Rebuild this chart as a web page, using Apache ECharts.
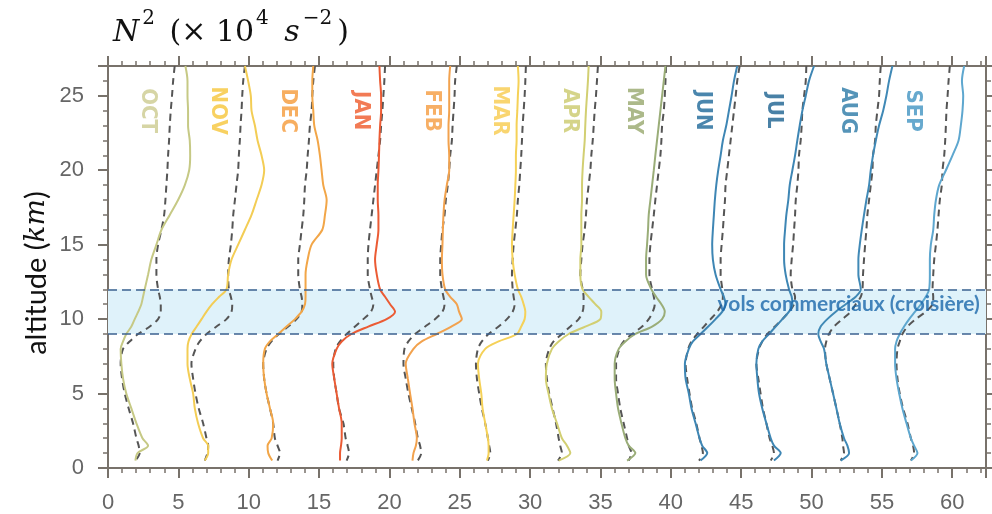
<!DOCTYPE html>
<html><head><meta charset="utf-8">
<script src="https://cdn.jsdelivr.net/npm/echarts@6/dist/echarts.min.js"></script>
<style>html,body{margin:0;padding:0;background:#fff}#c{width:992px;height:514px}</style>
</head><body><div id="c"></div>
<script>
// altitude levels (km), top to bottom
const ALT = [27,26,25,24,23,22,21,20,19,18,17,16,15,14,13,12,11.5,11,10.5,10,9.5,9,8.5,8,7,6,5,4,3,2,1.5,1,0.5];

const MONTHS = ['OCT','NOV','DEC','JAN','FEB','MAR','APR','MAY','JUN','JUL','AUG','SEP'];
const LINE_COLORS = ['#c6c985','#f3cd55','#f2a648','#eb5b34','#f2a24e','#f5d158','#d2cf72','#9aad78','#3e86b4','#3e86b4','#4089b6','#5ea7cf'];
const LABEL_COLORS = ['#cccb8e','#f6c53a','#f59a38','#ef5a2a','#f59b3e','#f7ca4c','#cbc96c','#97a76d','#1d6898','#1b6290','#2a79a6','#4194c2'];
const LABEL_X = [2.8,7.8,12.76,17.96,23.0,27.82,32.8,37.38,42.28,47.33,52.55,57.2];
const LABEL_ALT = 24;

// solid profiles (x position on the shifted N² axis)
const octSolid = [5.50,5.65,5.65,5.69,5.69,5.81,5.84,5.77,5.46,4.98,4.39,3.80,3.44,3.08,2.85,2.61,2.49,2.37,2.15,1.90,1.66,1.30,1.07,0.90,0.95,1.07,1.30,1.66,2.02,2.45,2.85,2.10,1.95];
const novSolid = [9.73,9.96,10.15,10.20,10.44,10.63,10.91,11.10,10.91,10.56,10.20,9.73,9.25,8.78,8.54,8.42,7.90,7.40,7.00,6.65,6.30,5.95,5.72,5.65,5.65,5.81,6.05,6.17,6.40,6.76,7.12,7.12,6.88];
const decSolid = [14.59,14.52,14.52,14.59,14.66,14.90,15.06,15.18,15.30,15.54,15.42,15.23,14.47,14.19,14.04,14.04,14.04,14.00,13.76,13.29,12.69,12.10,11.51,11.15,11.03,11.10,11.27,11.51,11.74,11.63,11.34,11.39,11.67];
const janSolid = [19.29,19.34,19.41,19.41,19.34,19.29,19.26,19.22,19.17,19.17,19.22,19.22,19.10,18.98,19.10,19.34,19.69,20.05,20.40,19.80,18.50,17.30,16.61,16.25,15.94,16.08,16.25,16.42,16.61,16.61,16.56,16.49,16.49];
const febSolid = [24.32,24.25,24.25,24.25,24.20,24.20,24.25,24.25,24.08,23.92,23.84,23.80,23.77,23.73,23.77,23.96,24.32,24.79,24.95,25.15,24.40,23.37,22.30,21.71,21.16,21.31,21.47,21.64,21.78,21.95,21.88,21.71,21.64];
const marSolid = [29.13,29.18,29.13,29.09,29.04,29.04,28.99,28.99,28.95,28.90,28.83,28.76,28.71,28.76,28.90,29.13,29.37,29.54,29.66,29.61,29.37,29.06,27.76,26.81,26.29,26.38,26.53,26.62,26.81,27.00,27.05,27.05,26.93];
const aprSolid = [34.16,34.11,34.04,33.97,33.92,33.88,33.80,33.73,33.69,33.69,33.64,33.64,33.64,33.57,33.57,33.73,34.16,34.63,35.06,34.99,33.92,32.74,32.03,31.55,31.19,31.12,31.31,31.55,31.91,32.26,32.62,32.86,32.03];
const maySolid = [39.62,39.50,39.38,39.26,39.14,39.02,38.90,38.79,38.67,38.55,38.43,38.38,38.31,38.24,38.24,38.62,38.95,39.33,39.57,39.38,38.67,37.48,36.77,36.30,36.01,36.01,36.11,36.25,36.49,36.77,37.01,37.48,36.89];
const junSolid = [44.72,44.49,44.32,44.13,43.94,43.70,43.54,43.37,43.23,43.13,43.06,42.99,42.94,42.99,43.18,43.54,43.77,43.89,43.66,43.18,42.66,42.11,41.57,41.28,41.00,41.05,41.28,41.47,41.76,42.04,42.23,42.59,42.11];
const julSolid = [50.18,49.82,49.59,49.35,49.16,48.99,48.83,48.64,48.45,48.35,48.21,48.12,48.05,48.05,48.16,48.40,48.59,48.64,48.40,47.93,47.45,46.98,46.50,46.22,46.08,46.15,46.27,46.50,46.79,47.10,47.33,47.81,47.33];
const augSolid = [55.75,55.51,55.32,55.09,54.80,54.57,54.37,54.21,54.09,53.90,53.73,53.57,53.43,53.33,53.33,53.50,53.14,52.43,51.72,51.12,50.65,50.48,50.65,50.89,51.05,51.29,51.53,51.77,52.00,52.31,52.55,52.67,52.07];
const sepSolid = [60.85,60.69,60.78,60.73,60.61,60.45,60.02,59.55,59.07,58.84,58.72,58.65,58.48,58.41,58.41,58.36,58.12,57.77,57.36,56.94,56.58,56.27,56.04,55.94,55.94,56.04,56.23,56.46,56.75,57.06,57.29,57.53,57.06];

// dashed reference profiles
const octDashed = [4.74,4.63,4.55,4.46,4.39,4.34,4.27,4.22,4.15,4.08,3.99,3.80,3.56,3.44,3.44,3.56,3.68,3.75,3.75,3.56,2.97,2.14,1.54,1.07,0.90,1.00,1.19,1.47,1.78,2.02,2.18,2.25,1.95];
const novDashed = [9.73,9.61,9.54,9.49,9.42,9.37,9.30,9.25,9.13,9.02,8.90,8.83,8.73,8.59,8.54,8.59,8.73,8.83,8.78,8.42,7.71,7.00,6.52,6.22,5.93,6.05,6.22,6.45,6.76,7.00,7.12,7.07,6.88];
const decDashed = [14.71,14.59,14.52,14.47,14.35,14.28,14.19,14.12,14.00,13.95,13.88,13.76,13.64,13.52,13.52,13.64,13.76,13.81,13.76,13.40,12.81,12.15,11.62,11.27,11.03,11.10,11.27,11.51,11.74,11.86,12.05,12.22,12.05];
const janDashed = [19.69,19.64,19.57,19.50,19.41,19.34,19.22,19.10,18.98,18.86,18.74,18.62,18.51,18.46,18.46,18.62,18.74,18.86,18.69,18.15,17.56,16.96,16.49,16.18,16.01,16.08,16.25,16.42,16.73,16.89,17.03,17.13,16.96];
const febDashed = [24.79,24.67,24.63,24.56,24.49,24.44,24.32,24.25,24.15,24.01,23.92,23.77,23.68,23.61,23.61,23.73,23.84,23.92,23.77,23.25,22.54,21.83,21.35,21.07,21.00,21.16,21.35,21.59,21.83,22.02,22.18,22.26,22.02];
const marDashed = [29.70,29.66,29.61,29.54,29.47,29.42,29.37,29.30,29.23,29.13,29.06,28.95,28.83,28.76,28.71,28.76,28.83,28.90,28.76,28.35,27.76,27.05,26.57,26.29,26.15,26.22,26.38,26.57,26.81,27.00,27.09,27.17,27.00];
const aprDashed = [34.82,34.75,34.68,34.59,34.52,34.45,34.35,34.28,34.16,34.04,33.97,33.88,33.73,33.64,33.57,33.73,33.80,33.80,33.73,33.45,32.86,32.26,31.67,31.36,31.12,31.19,31.36,31.60,31.84,32.03,32.14,32.26,31.98];
const mayDashed = [39.66,39.62,39.57,39.50,39.38,39.33,39.26,39.14,39.02,38.90,38.79,38.67,38.55,38.48,38.48,38.67,38.79,38.86,38.72,38.43,37.96,37.25,36.65,36.34,36.11,36.11,36.25,36.41,36.65,36.89,37.01,37.20,37.01];
const junDashed = [44.89,44.72,44.61,44.49,44.37,44.25,44.13,44.01,43.89,43.85,43.77,43.70,43.61,43.54,43.54,43.66,43.70,43.61,43.30,42.83,42.35,41.88,41.47,41.24,41.05,41.16,41.33,41.52,41.81,42.04,42.18,42.28,42.00];
const julDashed = [49.63,49.59,49.47,49.35,49.30,49.23,49.11,49.07,48.99,48.88,48.83,48.76,48.69,48.59,48.52,48.64,48.83,48.76,48.40,47.93,47.40,46.86,46.50,46.27,46.08,46.22,46.38,46.55,46.79,47.02,47.21,47.33,47.10];
const augDashed = [54.92,54.85,54.80,54.68,54.57,54.52,54.37,54.33,54.21,54.09,53.97,53.90,53.81,53.73,53.66,53.62,53.50,53.14,52.79,52.19,51.60,51.24,51.05,50.96,51.05,51.29,51.53,51.77,52.00,52.19,52.24,52.31,52.07];
const sepDashed = [59.83,59.74,59.67,59.59,59.55,59.50,59.43,59.31,59.26,59.12,59.03,58.95,58.84,58.72,58.65,58.60,58.65,58.60,58.12,57.41,56.82,56.46,56.27,56.11,56.04,56.11,56.27,56.51,56.82,57.06,57.22,57.29,57.06];

const SOLID = [octSolid,novSolid,decSolid,janSolid,febSolid,marSolid,aprSolid,maySolid,junSolid,julSolid,augSolid,sepSolid];
const DASHED = [octDashed,novDashed,decDashed,janDashed,febDashed,marDashed,aprDashed,mayDashed,junDashed,julDashed,augDashed,sepDashed];

const BAND = [9, 12];
const BAND_LABEL = 'vols commerciaux (croisière)';
const BAND_LABEL_POS = [62.0, 11.0];

const X_MIN = 0, X_MAX = 62.4, X_STEP = 5;
const Y_MIN = 0, Y_MAX = 27, Y_STEP = 5;

const AXC = '#78726b';
const chart = echarts.init(document.getElementById('c'), null, {renderer:'canvas'});

function axisCommon(showLabel, margin) {
  return {
    axisLine: {show: true, onZero: false, lineStyle: {color: AXC, width: 2}},
    axisTick: {show: true, inside: false, length: 10, lineStyle: {color: AXC, width: 2}},
    minorTick: {show: true, splitNumber: 5, length: 5, lineStyle: {color: AXC, width: 1.5}},
    splitLine: {show: false},
    minorSplitLine: {show: false},
    axisLabel: {show: showLabel, margin: margin || 8, fontSize: 22, color: '#666',
      fontFamily: 'Liberation Sans, Arial, sans-serif', showMaxLabel: false}
  };
}

const series = [];
// band
series.push({
  type: 'line', data: [], z: 1, silent: true,
  markArea: {silent: true, itemStyle: {color: '#dff2fa'}, data: [[{yAxis: BAND[0]}, {yAxis: BAND[1]}]]},
  markLine: {silent: true, symbol: 'none', label: {show: false},
    lineStyle: {type: [9, 5], color: '#3d6290', width: 1.5},
    data: [{yAxis: BAND[0]}, {yAxis: BAND[1]}]}
});
for (let i = 0; i < MONTHS.length; i++) {
  series.push({
    type: 'line', name: MONTHS[i] + ' dashed', z: 3, symbol: 'none', smooth: 0.3, silent: true,
    data: ALT.map((a, k) => [DASHED[i][k], a]),
    lineStyle: {color: '#555', width: 2, type: [7, 5]}
  });
  series.push({
    type: 'line', name: MONTHS[i], z: 4, symbol: 'none', smooth: 0.3, silent: true,
    data: ALT.map((a, k) => [SOLID[i][k], a]),
    lineStyle: {color: LINE_COLORS[i], width: 2}
  });
}
// month labels
series.push({
  type: 'scatter', z: 5, silent: true, symbolSize: 1, itemStyle: {color: 'rgba(0,0,0,0)'},
  data: MONTHS.map((m, i) => ({value: [LABEL_X[i], LABEL_ALT], name: m,
    label: {color: LABEL_COLORS[i]}})),
  label: {show: true, position: 'inside', rotate: -90, formatter: p => p.name,
    fontSize: 22, fontWeight: 'bold', fontFamily: "'Liberation Sans Narrow','DejaVu Sans Condensed',sans-serif"}
});
// band label
series.push({
  type: 'scatter', z: 6, silent: true, symbolSize: 1, itemStyle: {color: 'rgba(0,0,0,0)'},
  data: [{value: BAND_LABEL_POS, name: BAND_LABEL}],
  label: {show: true, position: 'left', distance: 0, formatter: p => p.name,
    color: '#1a66aa', fontSize: 21, fontWeight: 'bold', fontFamily: 'Lato, sans-serif'}
});

chart.setOption({
  animation: false,
  grid: {left: 108, top: 66, width: 878, height: 405, containLabel: false},
  xAxis: [
    Object.assign({type: 'value', min: X_MIN, max: X_MAX, interval: X_STEP, position: 'bottom'}, axisCommon(true, 24)),
    Object.assign({type: 'value', min: X_MIN, max: X_MAX, interval: X_STEP, position: 'top'}, axisCommon(false))
  ],
  yAxis: [
    Object.assign({type: 'value', min: Y_MIN, max: Y_MAX, interval: Y_STEP, position: 'left'}, axisCommon(true, 24)),
    Object.assign({type: 'value', min: Y_MIN, max: Y_MAX, interval: Y_STEP, position: 'right'}, axisCommon(false))
  ],
  series: series,
  graphic: [
    {type: 'text', x: 112, y: 8, silent: true,
      style: {text: '{i|N}{s|2}{n| (× 10}{s|4}{n| }{i|s}{s|−2}{n|)}',
        rich: {
          i: {fontStyle: 'italic', fontFamily: 'DejaVu Serif', fontSize: 30, fill: '#111', lineHeight: 40, verticalAlign: 'bottom', padding: [0, 1, 0, 1]},
          n: {fontFamily: 'DejaVu Serif', fontSize: 30, fill: '#111', lineHeight: 40, verticalAlign: 'bottom', padding: [0, 0, 0, 4]},
          s: {fontFamily: 'DejaVu Serif', fontSize: 20, fill: '#111', lineHeight: 40, verticalAlign: 'top', padding: [1, 1, 0, 2]}
        }}},
    {type: 'text', x: 37, y: 273, rotation: Math.PI / 2, silent: true,
      style: {text: '{a|altitude (}{i|km}{a|)}', align: 'center', verticalAlign: 'middle',
        rich: {a: {fontFamily: 'Lato, sans-serif', fontSize: 29, fill: '#111'},
               i: {fontFamily: 'DejaVu Serif', fontStyle: 'italic', fontSize: 28, fill: '#111'}}}}
  ]
});
</script></body></html>
